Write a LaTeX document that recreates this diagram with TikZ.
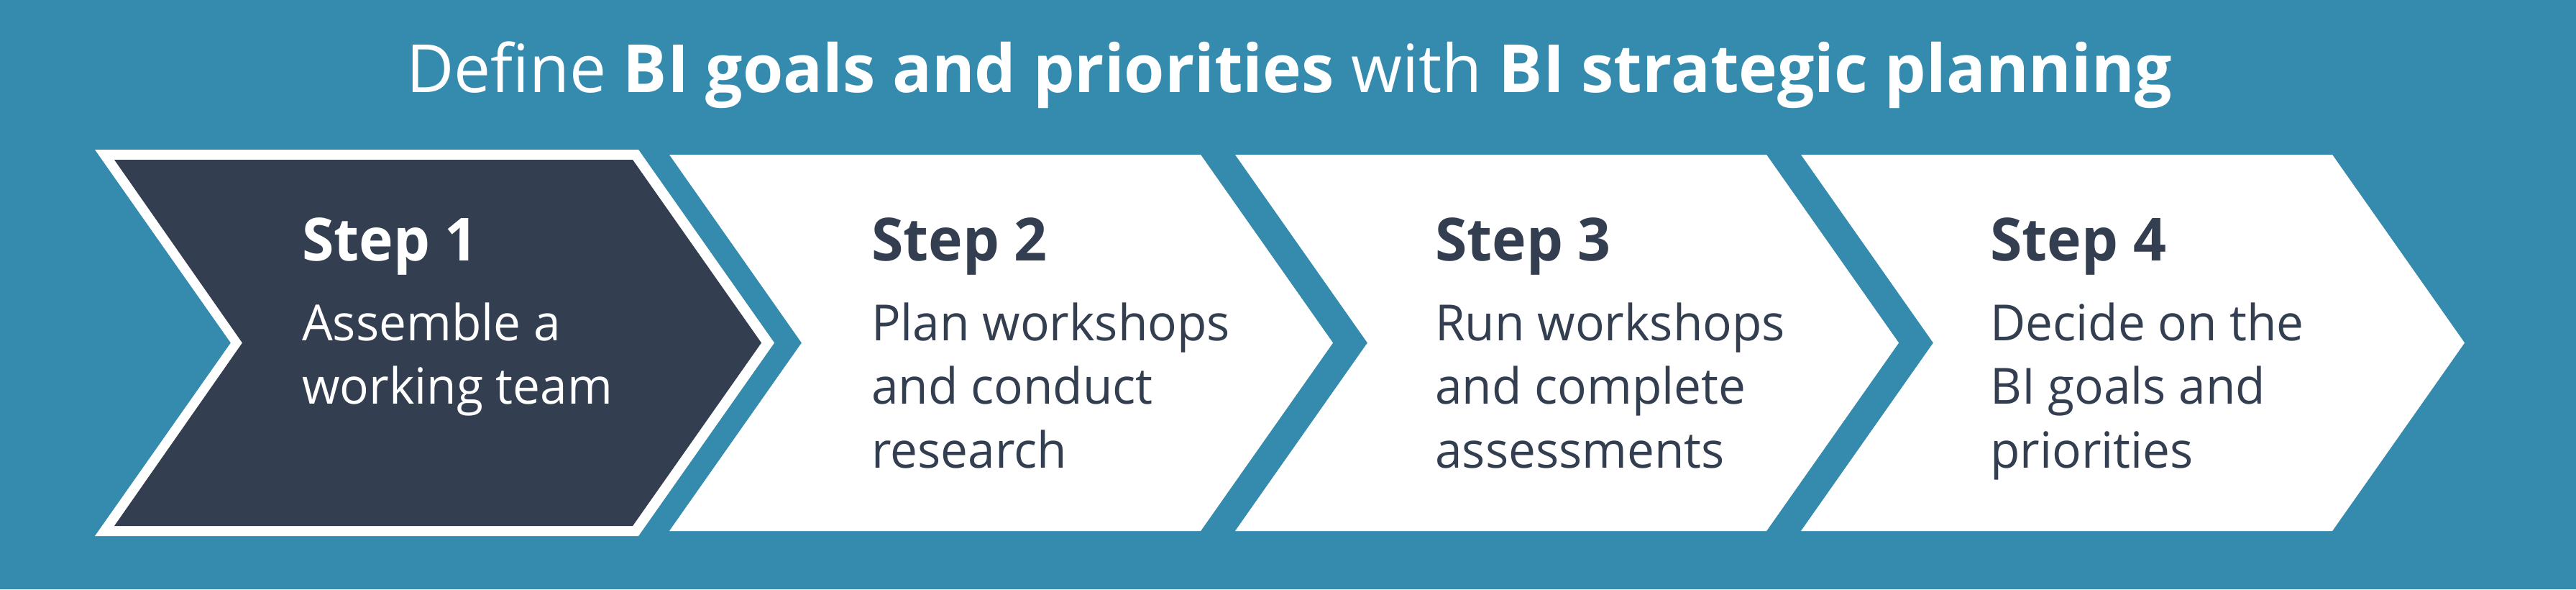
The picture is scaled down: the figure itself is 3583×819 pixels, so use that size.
\documentclass[tikz,border=0pt]{standalone}
\usepackage{fontspec}
\setmainfont{Open Sans}[FakeStretch=0.975]
\newfontfamily\titlefont{Open Sans}[FakeStretch=0.985]
\definecolor{bgteal}{RGB}{52,139,173}
\definecolor{darkslate}{RGB}{51,63,80}
\begin{document}
\begin{tikzpicture}[x=1pt,y=-1pt,
  chevwhite/.style={fill=white},
  chevdark/.style={fill=darkslate},
  headtxt/.style={anchor=base west,inner sep=0pt,font=\fontsize{82.6}{100}\selectfont\bfseries},
  bodytxt/.style={anchor=base west,inner sep=0pt,align=left,font=\fontsize{69.3}{88.4}\selectfont},
]
\fill[bgteal] (0,0) rectangle (3583,819);
\useasboundingbox (0,0) rectangle (3583,819);
% title
\node[anchor=base,inner sep=0pt,text=white,font=\titlefont\fontsize{92.4}{110}\selectfont] (title) at (1793,128)
  {Define \textbf{BI goals and priorities} with \textbf{BI strategic planning}};
% step 1 (highlighted)
\fill[chevwhite] (132,208) -- (888,208) -- (1077,476.5) -- (888,745) -- (132,745) -- (321,476.5) -- cycle;
\fill[chevdark] (159,222) -- (880,222) -- (1059,476.5) -- (880,731) -- (159,731) -- (337,476.5) -- cycle;
% steps 2-4
\foreach \L in {931,1718,2505}{
  \fill[chevwhite] (\L,215) -- ({\L+739},215) -- ({\L+923},476.5) -- ({\L+739},738) -- (\L,738) -- ({\L+184},476.5) -- cycle;
}
% texts (multi-line nodes anchored at the baseline of their last line)
\node[headtxt,text=white] (h1) at (420,362) {Step 1};
\node[bodytxt,text=white] (b1) at (420,561.9) {Assemble a\\working team};
\node[headtxt,text=darkslate] (h2) at (1212,362) {Step 2};
\node[bodytxt,text=darkslate] (b2) at (1212,650.3) {Plan workshops\\and conduct\\research};
\node[headtxt,text=darkslate] (h3) at (1996,362) {Step 3};
\node[bodytxt,text=darkslate] (b3) at (1996,650.3) {Run workshops\\and complete\\assessments};
\node[headtxt,text=darkslate] (h4) at (2768,362) {Step 4};
\node[bodytxt,text=darkslate] (b4) at (2768,650.3) {Decide on the\\BI goals and\\priorities};
\end{tikzpicture}
\end{document}
